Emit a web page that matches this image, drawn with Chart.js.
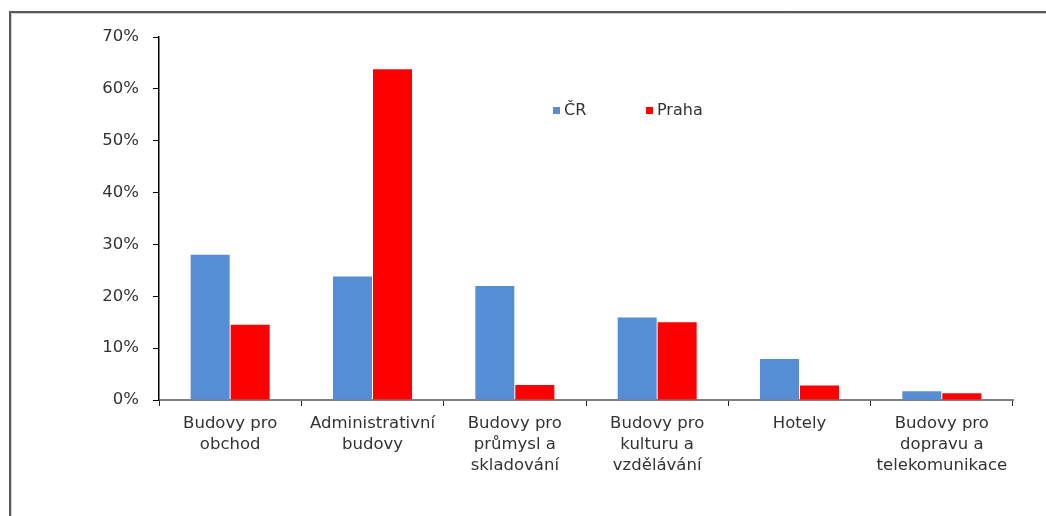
<!DOCTYPE html>
<html>
<head>
<meta charset="utf-8">
<script src="https://cdn.jsdelivr.net/npm/chart.js@4.4.1/dist/chart.umd.min.js"></script>
<style>
  html, body { margin: 0; padding: 0; background: #ffffff; }
  #wrap { width: 1046px; height: 516px; position: relative; }
</style>
</head>
<body>
<div id="wrap"><canvas id="c" width="1046" height="516"></canvas></div>
<script>
const categories = [
  ['Budovy pro', 'obchod'],
  ['Administrativní', 'budovy'],
  ['Budovy pro', 'průmysl a', 'skladování'],
  ['Budovy pro', 'kulturu a', 'vzdělávání'],
  ['Hotely'],
  ['Budovy pro', 'dopravu a', 'telekomunikace']
];
const seriesNames = ['ČR', 'Praha'];
const valuesCR = [28.0, 23.8, 22.0, 15.9, 7.9, 1.7];
const valuesPraha = [14.5, 63.8, 2.9, 15.0, 2.8, 1.3];
const yTickValues = [0, 10, 20, 30, 40, 50, 60, 70];
const colors = ['#558ED5', '#FF0000'];

const FONT = 'DejaVu Sans';

const framePlugin = {
  id: 'frame',
  beforeDraw(chart) {
    const ctx = chart.ctx;
    ctx.save();
    ctx.fillStyle = '#ffffff';
    ctx.fillRect(0, 0, chart.width, chart.height);
    ctx.strokeStyle = '#5a5a5a';
    ctx.lineWidth = 2;
    ctx.beginPath();
    ctx.moveTo(10, 516);
    ctx.lineTo(10, 12);
    ctx.lineTo(1046, 12);
    ctx.stroke();
    ctx.strokeStyle = '#cfcfcf';
    ctx.lineWidth = 1;
    ctx.beginPath();
    ctx.moveTo(11.5, 516);
    ctx.lineTo(11.5, 13.5);
    ctx.lineTo(1046, 13.5);
    ctx.stroke();
    ctx.restore();
  }
};

const legendPlugin = {
  id: 'customLegend',
  afterDraw(chart) {
    const ctx = chart.ctx;
    const a = chart.chartArea;
    const offsets = [394, 487];
    const cy = a.top + 74;
    ctx.save();
    ctx.font = '16px "' + FONT + '"';
    ctx.textBaseline = 'middle';
    ctx.textAlign = 'left';
    chart.data.datasets.forEach((ds, i) => {
      const x = a.left + offsets[i];
      ctx.fillStyle = ds.backgroundColor;
      ctx.fillRect(x, cy - 4, 7, 7);
      ctx.fillStyle = '#333333';
      ctx.fillText(ds.label, x + 11, cy);
    });
    ctx.restore();
  }
};

new Chart(document.getElementById('c'), {
  type: 'bar',
  data: {
    labels: categories,
    datasets: [
      { label: seriesNames[0], data: valuesCR, backgroundColor: colors[0] },
      { label: seriesNames[1], data: valuesPraha, backgroundColor: colors[1] }
    ]
  },
  options: {
    responsive: false,
    animation: false,
    devicePixelRatio: 1,
    layout: { padding: { left: 0, right: 33, top: 37, bottom: 0 } },
    datasets: {
      bar: { categoryPercentage: 0.562, barPercentage: 0.975, borderWidth: 0 }
    },
    plugins: {
      legend: { display: false },
      tooltip: { enabled: false }
    },
    scales: {
      x: {
        offset: true,
        afterFit(s) { s.height = 116; },
        grid: {
          offset: true,
          drawOnChartArea: false,
          drawTicks: true,
          tickLength: 6,
          color: '#222222',
          tickColor: '#222222'
        },
        border: { display: true, color: '#808080', width: 2 },
        ticks: {
          color: '#333333',
          padding: 7,
          maxRotation: 0,
          autoSkip: false,
          font: { family: FONT, size: 16.5, lineHeight: 1.27 }
        }
      },
      y: {
        min: 0,
        max: 70,
        afterFit(s) { s.width = 159; },
        afterBuildTicks(s) { s.ticks = yTickValues.map(v => ({ value: v })); },
        grid: {
          drawOnChartArea: false,
          drawTicks: true,
          tickLength: 6,
          color: '#000000',
          tickColor: '#000000'
        },
        border: { display: true, color: '#000000', width: 1.5 },
        ticks: {
          color: '#333333',
          padding: 14,
          font: { family: FONT, size: 16.5 },
          callback: v => v + '%'
        }
      }
    }
  },
  plugins: [framePlugin, legendPlugin]
});
</script>
</body>
</html>
